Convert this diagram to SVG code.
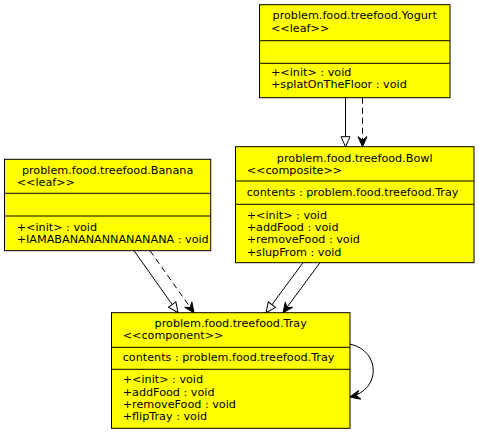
<svg xmlns="http://www.w3.org/2000/svg" width="479" height="435" viewBox="0 0 479 435">
<style>
.box{fill:#ffff00;stroke:#000;stroke-width:1}
.div{stroke:#000;stroke-width:1}
text{font-family:"DejaVu Sans",sans-serif;font-size:11.2px;fill:#000}
.c{text-anchor:middle}
.edge{fill:none;stroke:#000;stroke-width:1}
.dash{stroke-dasharray:6,4}
</style>
<defs>
<marker id="tri" markerUnits="userSpaceOnUse" markerWidth="12" markerHeight="12" viewBox="-1 -6 12 12" refX="10" refY="0" orient="auto">
<path d="M0,-4.5 L10,0 L0,4.5 Z" fill="#fff" stroke="#000" stroke-width="1"/>
</marker>
<marker id="vee" markerUnits="userSpaceOnUse" markerWidth="12" markerHeight="12" viewBox="-1 -6 12 12" refX="10" refY="0" orient="auto">
<path d="M0,-4.5 L10,0 L0,4.5 L3.5,0 Z" fill="#000" stroke="#000" stroke-width="1"/>
</marker>
</defs>
<g id="connectors">
<path class="edge" d="M345.5,97.7 L345.5,146.7" marker-end="url(#tri)"/>
<path class="edge dash" d="M362.5,97.7 L362.5,146.7" marker-end="url(#vee)"/>
<path class="edge" d="M134,250.7 L178,312.7" marker-end="url(#tri)"/>
<path class="edge dash" d="M150,250.7 L194,312.7" marker-end="url(#vee)"/>
<path class="edge" d="M303,262.7 L266,312.7" marker-end="url(#tri)"/>
<path class="edge" d="M320,262.7 L283,312.7" marker-end="url(#vee)"/>
<path class="edge" d="M350,344 C381,351 381,390 350,397" marker-end="url(#vee)"/>
</g>
<g id="yogurt">
<rect class="box" x="259.5" y="4.7" width="190.5" height="93"/>
<line class="div" x1="259.5" y1="40.7" x2="450" y2="40.7"/>
<line class="div" x1="259.5" y1="63.3" x2="450" y2="63.3"/>
<text class="c" x="354.7" y="19.2">problem.food.treefood.Yogurt</text>
<text x="271" y="31.5">&lt;&lt;leaf&gt;&gt;</text>
<text x="271" y="76">+&lt;init&gt; : void</text>
<text x="271" y="88.2">+splatOnTheFloor : void</text>
</g>
<g id="bowl">
<rect class="box" x="235.5" y="146.7" width="238.5" height="116"/>
<line class="div" x1="235.5" y1="181" x2="474" y2="181"/>
<line class="div" x1="235.5" y1="204.3" x2="474" y2="204.3"/>
<text class="c" x="354.7" y="161.5">problem.food.treefood.Bowl</text>
<text x="246.7" y="173.7">&lt;&lt;composite&gt;&gt;</text>
<text x="246.7" y="196">contents : problem.food.treefood.Tray</text>
<text x="246.7" y="219">+&lt;init&gt; : void</text>
<text x="246.7" y="231.2">+addFood : void</text>
<text x="246.7" y="243.4">+removeFood : void</text>
<text x="246.7" y="255.6">+slupFrom : void</text>
</g>
<g id="banana">
<rect class="box" x="4.5" y="159.3" width="206.2" height="91.4"/>
<line class="div" x1="4.5" y1="193.3" x2="210.7" y2="193.3"/>
<line class="div" x1="4.5" y1="216" x2="210.7" y2="216"/>
<text class="c" x="107.6" y="173.5">problem.food.treefood.Banana</text>
<text x="16.7" y="185.7">&lt;&lt;leaf&gt;&gt;</text>
<text x="16.7" y="230.6">+&lt;init&gt; : void</text>
<text x="16.7" y="242.8">+IAMABANANANNANANANA : void</text>
</g>
<g id="tray">
<rect class="box" x="111.5" y="312.7" width="238.5" height="115.6"/>
<line class="div" x1="111.5" y1="347.3" x2="350" y2="347.3"/>
<line class="div" x1="111.5" y1="369.3" x2="350" y2="369.3"/>
<text class="c" x="230.7" y="327">problem.food.treefood.Tray</text>
<text x="122.7" y="339.2">&lt;&lt;component&gt;&gt;</text>
<text x="122.7" y="361.4">contents : problem.food.treefood.Tray</text>
<text x="122.7" y="383.4">+&lt;init&gt; : void</text>
<text x="122.7" y="395.6">+addFood : void</text>
<text x="122.7" y="407.8">+removeFood : void</text>
<text x="122.7" y="420">+flipTray : void</text>
</g>
</svg>
